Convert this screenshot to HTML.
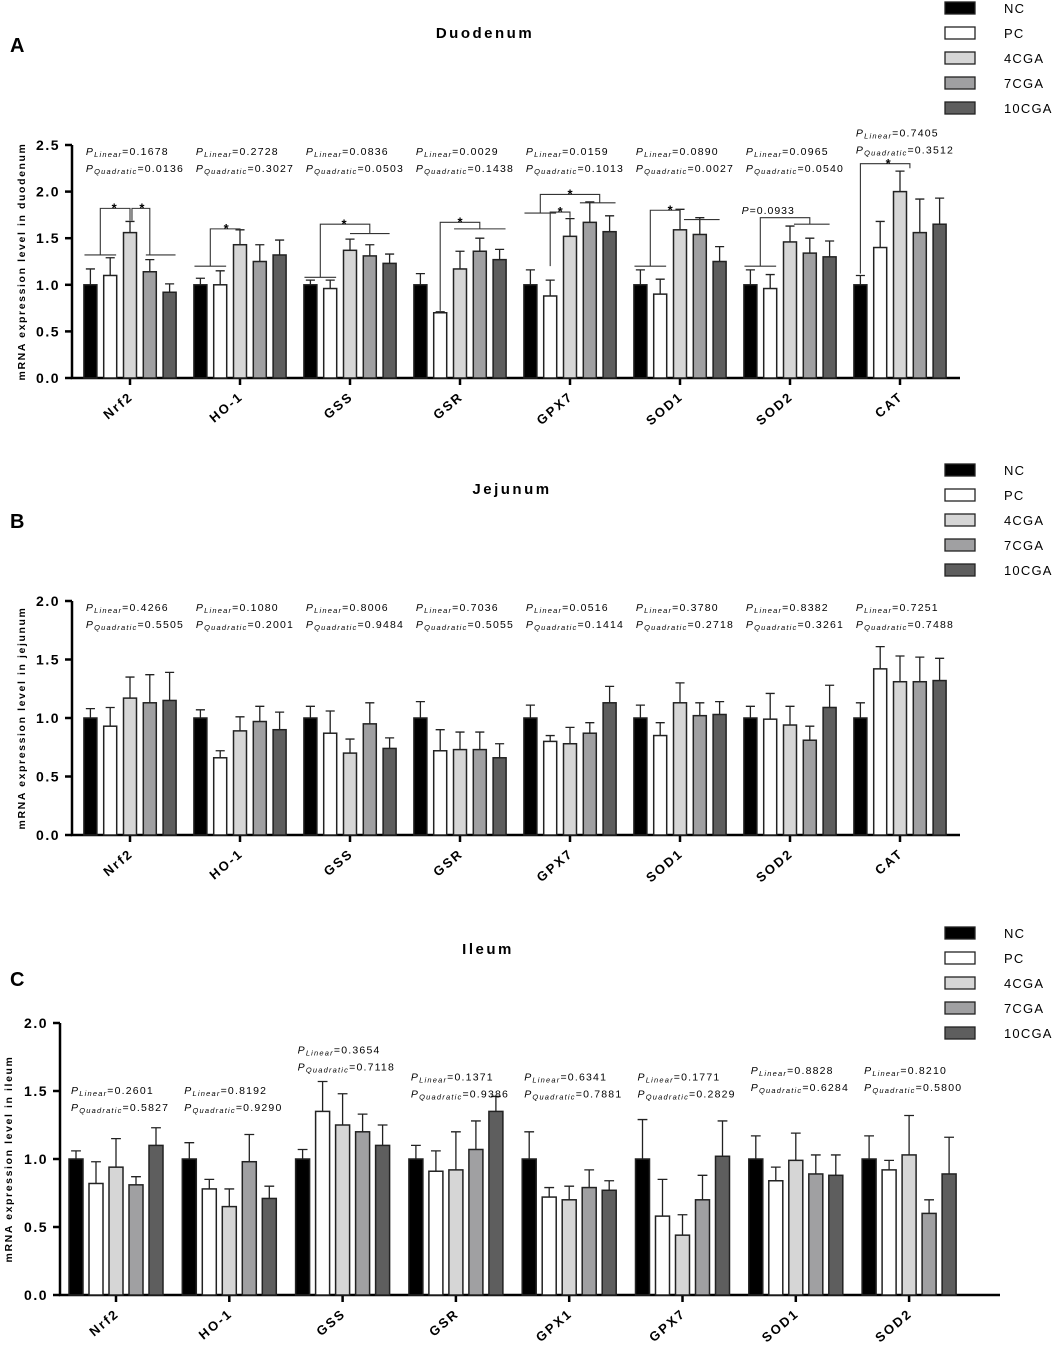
<!DOCTYPE html>
<html><head><meta charset="utf-8"><style>
html,body{margin:0;padding:0;background:#fff;}
svg{display:block;font-family:"Liberation Sans",Arial,sans-serif;}
</style></head><body>
<svg id="chart" width="1052" height="1345" viewBox="0 0 1052 1345" xmlns="http://www.w3.org/2000/svg"></svg>
<script>
const seriesNames = ["NC","PC","4CGA","7CGA","10CGA"];
const seriesColors = ["#000000","#ffffff","#d6d6d6","#a0a0a2","#5e5e5e"];

const catsA = ["Nrf2","HO-1","GSS","GSR","GPX7","SOD1","SOD2","CAT"];
const meansA = [[1,1.1,1.56,1.14,0.92],[1,1,1.43,1.25,1.32],[1,0.96,1.37,1.31,1.23],[1,0.7,1.17,1.36,1.27],[1,0.88,1.52,1.67,1.57],[1,0.9,1.59,1.54,1.25],[1,0.96,1.46,1.34,1.30],[1,1.4,2.0,1.56,1.65]];
const errsA = [[.17,.19,.12,.13,.09],[.07,.15,.16,.18,.16],[.05,.09,.12,.12,.1],[.12,.01,.19,.14,.11],[.16,.17,.19,.22,.17],[.16,.16,.22,.18,.16],[.16,.15,.17,.16,.17],[.1,.28,.22,.36,.28]];
const pLinA = ["0.1678","0.2728","0.0836","0.0029","0.0159","0.0890","0.0965","0.7405"];
const pQuadA = ["0.0136","0.3027","0.0503","0.1438","0.1013","0.0027","0.0540","0.3512"];
const pLabelValA = [2.5,2.5,2.5,2.5,2.5,2.5,2.5,2.7];

const catsB = ["Nrf2","HO-1","GSS","GSR","GPX7","SOD1","SOD2","CAT"];
const meansB = [[1,.93,1.17,1.13,1.15],[1,.66,.89,.97,.9],[1,.87,.7,.95,.74],[1,.72,.73,.73,.66],[1,.8,.78,.87,1.13],[1,.85,1.13,1.02,1.03],[1,.99,.94,.81,1.09],[1,1.42,1.31,1.31,1.32]];
const errsB = [[.08,.16,.18,.24,.24],[.07,.06,.12,.13,.15],[.1,.19,.12,.18,.09],[.14,.18,.15,.15,.12],[.11,.05,.14,.09,.14],[.11,.11,.17,.11,.11],[.1,.22,.16,.12,.19],[.13,.19,.22,.21,.19]];
const pLinB = ["0.4266","0.1080","0.8006","0.7036","0.0516","0.3780","0.8382","0.7251"];
const pQuadB = ["0.5505","0.2001","0.9484","0.5055","0.1414","0.2718","0.3261","0.7488"];
const pLabelValB = [2,2,2,2,2,2,2,2];

const catsC = ["Nrf2","HO-1","GSS","GSR","GPX1","GPX7","SOD1","SOD2"];
const meansC = [[1,.82,.94,.81,1.1],[1,.78,.65,.98,.71],[1,1.35,1.25,1.2,1.1],[1,.91,.92,1.07,1.35],[1,.72,.7,.79,.77],[1,.58,.44,.7,1.02],[1,.84,.99,.89,.88],[1,.92,1.03,.6,.89]];
const errsC = [[.06,.16,.21,.06,.13],[.12,.07,.13,.2,.09],[.07,.22,.23,.13,.15],[.1,.15,.28,.21,.11],[.2,.07,.1,.13,.07],[.29,.27,.15,.18,.26],[.17,.1,.2,.14,.15],[.17,.07,.29,.1,.27]];
const pLinC = ["0.2601","0.8192","0.3654","0.1371","0.6341","0.1771","0.8828","0.8210"];
const pQuadC = ["0.5827","0.9290","0.7118","0.9386","0.7881","0.2829","0.6284","0.5800"];
const pLabelValC = [1.55,1.55,1.85,1.65,1.65,1.65,1.7,1.7];

const ticksA = ["0.0","0.5","1.0","1.5","2.0","2.5"];
const ticksBC = ["0.0","0.5","1.0","1.5","2.0"];

const bracketsA = [
 [[0,-0.3,1.32],[0,1.3,1.32]],
 [[0,0.5,1.32],[0,0.5,1.82],[0,2,1.82],[0,2,1.69]],
 [[0,2.1,1.69],[0,2.1,1.82],[0,3,1.82],[0,3,1.32]],
 [[0,2.8,1.32],[0,4.3,1.32]],
 [[1,-0.3,1.2],[1,1.3,1.2]],
 [[1,0.5,1.2],[1,0.5,1.6],[1,2,1.6],[1,2,1.59]],
 [[2,-0.3,1.08],[2,1.3,1.08]],
 [[2,0.5,1.08],[2,0.5,1.65],[2,3,1.65],[2,3,1.55]],
 [[2,2,1.55],[2,4,1.55]],
 [[3,1,0.72],[3,1,1.67],[3,3,1.67],[3,3,1.6]],
 [[3,1.7,1.6],[3,4.3,1.6]],
 [[4,-0.3,1.77],[4,1.3,1.77]],
 [[4,0.5,1.77],[4,0.5,1.97],[4,3.5,1.97],[4,3.5,1.88]],
 [[4,2.5,1.88],[4,4.3,1.88]],
 [[4,1,1.2],[4,1,1.78],[4,2,1.78],[4,2,1.72]],
 [[5,-0.3,1.2],[5,1.3,1.2]],
 [[5,0.5,1.2],[5,0.5,1.8],[5,2,1.8],[5,2,1.76]],
 [[5,2.2,1.7],[5,4,1.7]],
 [[6,-0.3,1.2],[6,1.3,1.2]],
 [[6,0.5,1.2],[6,0.5,1.72],[6,3,1.72],[6,3,1.65]],
 [[6,2.2,1.65],[6,4,1.65]],
 [[7,0,1.12],[7,0,2.3],[7,2.5,2.3],[7,2.5,2.25]]
];
const starsA = [[0,1.2,1.84],[0,2.6,1.84],[1,1.3,1.62],[2,1.7,1.67],[3,2,1.69],[4,1.5,1.8],[4,2,1.99],[5,1.5,1.82],[7,1.4,2.32]];

const NS="http://www.w3.org/2000/svg";
const svg=document.getElementById('chart');
function mk(tag,attrs,parent){const e=document.createElementNS(NS,tag);for(const k in attrs)e.setAttribute(k,attrs[k]);(parent||svg).appendChild(e);return e;}

function panel(cfg){
  const g=mk('g',{});
  
  
  const y=v=>cfg.y0-v*cfg.ppu;
  const cx=i=>cfg.c0+i*cfg.step;
  const bx=(i,j)=>cx(i)+(j-2)*cfg.pitch;
  const t=mk('text',{x:cfg.titleX,y:cfg.titleY,'text-anchor':'middle','font-size':15,'font-weight':'bold','letter-spacing':2.5},g);
  t.textContent=cfg.title;
  
  
  const L=mk('text',{x:10,y:cfg.letterY,'font-size':20,'font-weight':'bold'},g);
  L.textContent=cfg.letter;
  
  
  const ax=mk('path',{d:`M${cfg.ax} ${y(cfg.ymax)}V${cfg.y0}H${cfg.axEnd}`,stroke:'#000','stroke-width':2.5,fill:'none'},g);
  
  
  cfg.ticks.forEach(tl=>{
    const v=parseFloat(tl);
    mk('line',{x1:cfg.ax-7,x2:cfg.ax,y1:y(v),y2:y(v),stroke:'#000','stroke-width':2.5},g);
    const tt=mk('text',{x:cfg.ax-12,y:y(v)+5,'text-anchor':'end','font-size':14,'font-weight':'bold','letter-spacing':1.5},g);
    tt.textContent=tl;
    
    
  });
  const yt=mk('text',{transform:`translate(${cfg.ytX},${(cfg.y0+y(cfg.ymax))/2}) rotate(-90)`,'text-anchor':'middle','font-size':10.5,'font-weight':'bold','letter-spacing':1.6},g);
  yt.textContent=cfg.ytitle;
  
  
  cfg.cats.forEach((c,i)=>{
    mk('line',{x1:cx(i),x2:cx(i),y1:cfg.y0,y2:cfg.y0+7,stroke:'#000','stroke-width':2.5},g);
    const xl=mk('text',{transform:`translate(${cx(i)+4},${cfg.y0+20}) rotate(-40)`,'text-anchor':'end','font-size':13,'font-weight':'bold','letter-spacing':2},g);
    xl.textContent=c;
    
    
    for(let j=0;j<5;j++){
      const v=cfg.means[i][j],e=cfg.errs[i][j],x=bx(i,j);
      const er=mk('path',{d:`M${x} ${y(v)}V${y(v+e)}M${x-cfg.bw*0.35} ${y(v+e)}H${x+cfg.bw*0.35}`,stroke:'#222','stroke-width':1.3,fill:'none'},g);
      
      
      const r=mk('rect',{x:x-cfg.bw/2,y:y(v),width:cfg.bw,height:v*cfg.ppu,fill:seriesColors[j],stroke:'#222','stroke-width':1.5},g);
      
      
    }
    const px=bx(i,0)-cfg.bw/2+2, py=y(cfg.pv[i])+10;
    const p1=mk('text',{x:px,y:py,'font-size':10.5,'letter-spacing':1.2},g);
    p1.innerHTML=`<tspan font-style="italic">P</tspan><tspan font-size="7.5" font-style="italic" dy="2">Linear</tspan><tspan dy="-2">=${cfg.pl[i]}</tspan>`;
    
    
    const p2=mk('text',{x:px,y:py+17,'font-size':10.5,'letter-spacing':1.2},g);
    p2.innerHTML=`<tspan font-style="italic">P</tspan><tspan font-size="7.5" font-style="italic" dy="2">Quadratic</tspan><tspan dy="-2">=${cfg.pq[i]}</tspan>`;
    
    
  });
  if(cfg.brackets){
    cfg.brackets.forEach(pl=>{
      const d=pl.map((p,k)=>(k?'L':'M')+bx(p[0],p[1])+' '+y(p[2])).join('');
      const b=mk('path',{d:d,stroke:'#333','stroke-width':1.1,fill:'none'},g);
      
      
    });
    cfg.stars.forEach(s=>{
      const st=mk('text',{x:bx(s[0],s[1]),y:y(s[2])+6,'text-anchor':'middle','font-size':13,'font-weight':'bold'},g);
      st.textContent='*';
      
      
    });
    const pt=mk('text',{x:bx(6,0.9),y:y(1.76),'text-anchor':'middle','font-size':10.5,'letter-spacing':1},g);
    pt.innerHTML='<tspan font-style="italic">P</tspan>=0.0933';
    
    
  }
  const lg=mk('g',{},g);
  
  
  seriesNames.forEach((n,j)=>{
    const ly=cfg.legY+j*25;
    const r=mk('rect',{x:cfg.legX,y:ly-6,width:30,height:12,fill:seriesColors[j],stroke:'#222','stroke-width':1.3},lg);
    
    
    const tx=mk('text',{x:cfg.legX+59,y:ly+5,'font-size':13,'letter-spacing':1.2},lg);
    tx.textContent=n;
    
    
  });
}

panel({name:'panel-a-duodenum',title:'Duodenum',titleX:485,titleY:38,letter:'A',letterY:52,y0:378,ppu:93.2,ymax:2.5,ax:72,axEnd:960,c0:130,step:110,pitch:19.8,bw:13,
  cats:catsA,means:meansA,errs:errsA,pl:pLinA,pq:pQuadA,pv:pLabelValA,ticks:ticksA,ytitle:'mRNA expression level in duodenum',ytX:25,
  brackets:bracketsA,stars:starsA,legX:945,legY:8});
panel({name:'panel-b-jejunum',title:'Jejunum',titleX:512,titleY:494,letter:'B',letterY:528,y0:835,ppu:117,ymax:2,ax:72,axEnd:960,c0:130,step:110,pitch:19.8,bw:13,
  cats:catsB,means:meansB,errs:errsB,pl:pLinB,pq:pQuadB,pv:pLabelValB,ticks:ticksBC,ytitle:'mRNA expression level in jejunum',ytX:25,legX:945,legY:470});
panel({name:'panel-c-ileum',title:'Ileum',titleX:488,titleY:954,letter:'C',letterY:986,y0:1295,ppu:136,ymax:2,ax:60,axEnd:1000,c0:116,step:113.3,pitch:20,bw:14,
  cats:catsC,means:meansC,errs:errsC,pl:pLinC,pq:pQuadC,pv:pLabelValC,ticks:ticksBC,ytitle:'mRNA expression level in ileum',ytX:12,legX:945,legY:933});
</script>
</body></html>
